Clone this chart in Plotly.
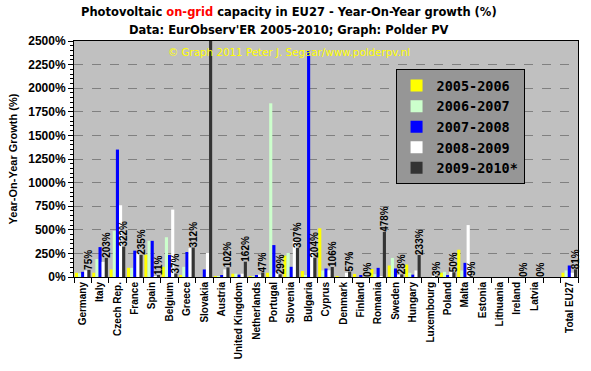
import plotly.graph_objects as go

categories = ["Germany", "Italy", "Czech Rep.", "France", "Spain", "Belgium", "Greece",
              "Slovakia", "Austria", "United Kingdom", "Netherlands", "Portugal", "Slovenia",
              "Bulgaria", "Cyprus", "Denmark", "Finland", "Romania", "Sweden", "Hungary",
              "Luxembourg", "Poland", "Malta", "Estonia", "Lithuania", "Ireland", "Latvia",
              " ", "Total EU27"]

g2005_2006 = [45, 45, 80, 97, 237, 108, 14, 0, 10, 35, 2, 45, 226, 63, 516, 5, 32, 85, 122,
              132, 0, 45, 289, None, None, None, None, None, 45]
g2006_2007 = [40, 191, 488, 97, 383, 421, 108, 0, 10, 35, 3, 1840, 254, 15, 69, 0, 0, 30, 202,
              45, 0, 55, 69, None, None, None, None, None, 69]
g2007_2008 = [55, 317, 1350, 279, 383, 233, 265, 80, 21, 25, 14, 338, 108, 2400, 90, 0, 14, 97,
              90, 25, 0, 14, 150, None, None, None, None, None, 122]
g2008_2009 = [69, 160, 760, 254, 2, 714, 306, 254, 80, 35, 25, 50, 376, 280, 71, 45, 0, 10, 15,
              69, 10, 69, 550, None, None, None, None, None, 45]
# Slovakia 2009-2010 runs off the top of the chart (no label shown)
g2009_2010 = [75, 203, 322, 235, 11, 37, 312, 2600, 102, 162, 47, 29, 307, 204, 106, 57, 0, 478,
              28, 233, 3, 50, 9, None, None, 0, 0, None, 81]
labels_2009_2010 = ["" if (v is None or v > 2500) else f"{v}%" for v in g2009_2010]

series = [
    ("2005-2006", g2005_2006, "#FFFF00"),
    ("2006-2007", g2006_2007, "#CCFFCC"),
    ("2007-2008", g2007_2008, "#0000FF"),
    ("2008-2009", g2008_2009, "#FFFFFF"),
    ("2009-2010*", g2009_2010, "#333333"),
]

fig = go.Figure()
for name, vals, col in series:
    kw = {}
    if name == "2009-2010*":
        kw = dict(text=labels_2009_2010, textposition="outside", textangle=-90,
                  constraintext="none", cliponaxis=False,
                  textfont=dict(family="Liberation Sans", size=10, color="black", weight="bold"))
    fig.add_trace(go.Bar(x=categories, y=vals, name=name, hoverinfo="skip",
                         marker=dict(color=col, line=dict(width=0)), **kw))

fig.update_layout(
    width=591, height=371,
    margin=dict(l=74, r=13, t=41, b=92),
    paper_bgcolor="white", plot_bgcolor="#C0C0C0",
    barmode="group", bargap=0.1, bargroupgap=0,
    showlegend=True,
    legend=dict(x=0.638, y=0.88, xanchor="left", yanchor="top",
                bgcolor="#969696", bordercolor="black", borderwidth=1, itemwidth=30,
                font=dict(family="DejaVu Sans Mono", size=13.5, color="black", weight="bold")),
    xaxis=dict(type="category", tickangle=-90, ticks="outside", tickson="boundaries", ticklen=5,
               tickcolor="black", showline=True, linecolor="black", linewidth=1, mirror=True,
               range=[-0.5, len(categories) - 0.5],
               tickfont=dict(family="Liberation Sans", size=10, color="black", weight="bold")),
    yaxis=dict(range=[0, 2500], dtick=250, ticksuffix="%", ticks="outside", ticklen=5,
               tickcolor="black", showline=True, linecolor="black", linewidth=1, mirror=True,
               showgrid=True, gridcolor="#808080", griddash="dash", zeroline=False,
               minor=dict(dtick=50, ticks="outside", ticklen=3, tickcolor="black", showgrid=False),
               tickfont=dict(family="Liberation Sans", size=12, color="black", weight="bold"),
               title=dict(text="Year-On-Year Growth (%)", standoff=8,
                          font=dict(family="Liberation Sans", size=11, color="black", weight="bold"))),
    annotations=[
        dict(text="Photovoltaic <span style='color:red'>on-grid</span> capacity in EU27 - Year-On-Year growth (%)",
             xref="paper", yref="paper", x=(289 - 74) / 504, y=1 + (41 - 12) / 238,
             xanchor="center", yanchor="middle", showarrow=False,
             font=dict(family="DejaVu Sans", size=11.5, color="black", weight="bold")),
        dict(text="Data: EurObserv'ER 2005-2010; Graph: Polder PV",
             xref="paper", yref="paper", x=(289 - 74) / 504, y=1 + (41 - 30) / 238,
             xanchor="center", yanchor="middle", showarrow=False,
             font=dict(family="DejaVu Sans", size=11.5, color="black", weight="bold")),
        dict(text="© Graph 2011 Peter J. Segaar/www.polderpv.nl",
             xref="paper", yref="paper", x=(289 - 74) / 504, y=1 - (52 - 41) / 238,
             xanchor="center", yanchor="middle", showarrow=False,
             font=dict(family="DejaVu Sans", size=10.3, color="#FFFF00")),
    ],
)

fig.write_html("out.html", config={"displayModeBar": False},
               post_script="document.body.style.margin='0px';")
